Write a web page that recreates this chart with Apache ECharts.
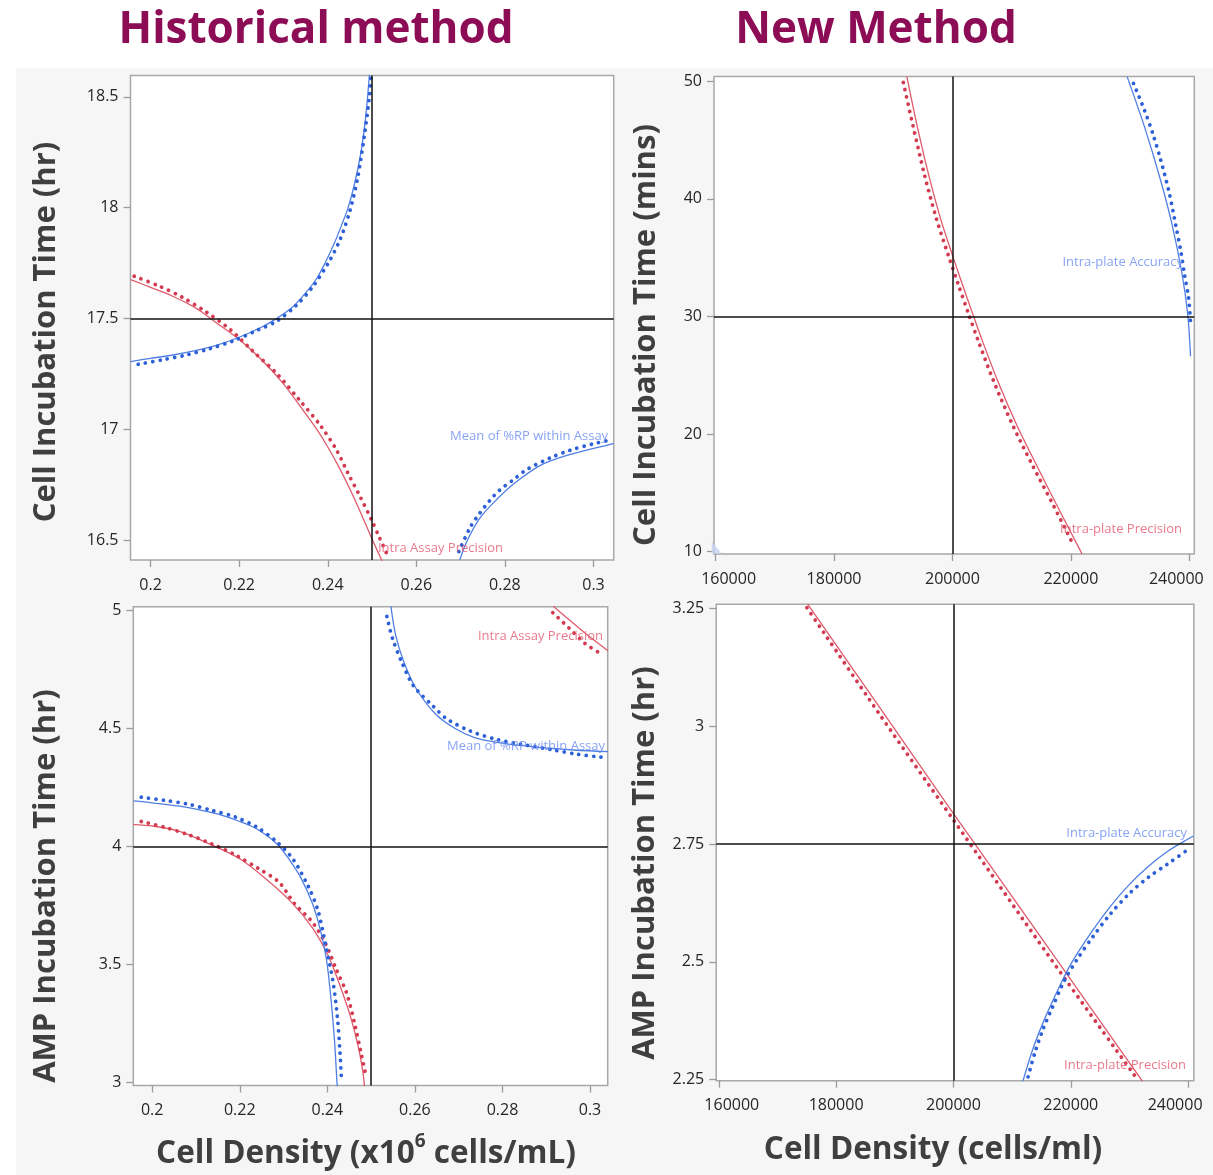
<!DOCTYPE html>
<html><head><meta charset="utf-8">
<script src="https://cdn.jsdelivr.net/npm/echarts@6/dist/echarts.min.js"></script>
<style>html,body{margin:0;padding:0;background:#fff}#c{width:1213px;height:1175px}</style>
</head><body><div id="c"></div>
<script>
// ---------- Tick values ----------
const p1XTicks = [0.2, 0.22, 0.24, 0.26, 0.28, 0.3];
const p1YTicks = [16.5, 17, 17.5, 18, 18.5];
const p2XTicks = [160000, 180000, 200000, 220000, 240000];
const p2YTicks = [10, 20, 30, 40, 50];
const p3XTicks = [0.2, 0.22, 0.24, 0.26, 0.28, 0.3];
const p3YTicks = [3, 3.5, 4, 4.5, 5];
const p4XTicks = [160000, 180000, 200000, 220000, 240000];
const p4YTicks = [2.25, 2.5, 2.75, 3, 3.25];

// ---------- Reference (target) lines ----------
const p1Ref = {x: 0.25, y: 17.5};
const p2Ref = {x: 200000, y: 30};
const p3Ref = {x: 0.25, y: 4};
const p4Ref = {x: 200000, y: 2.75};

// ---------- Panel 1: Historical, Cell Incubation Time (hr) ----------
const p1BlueLineA = [[0.1955,17.305],[0.2,17.32],[0.205,17.335],[0.21,17.355],[0.215,17.38],[0.22,17.415],[0.225,17.46],[0.2285,17.5],[0.232,17.55],[0.235,17.615],[0.2375,17.68],[0.2394,17.75],[0.2415,17.84],[0.2432,17.925],[0.2446,18.0],[0.2462,18.12],[0.2475,18.25],[0.2484,18.38],[0.249,18.5],[0.2494,18.6]];
const p1BlueDotsA = [[0.1972,17.293],[0.2026,17.313],[0.2079,17.334],[0.2133,17.363],[0.2187,17.399],[0.224,17.446],[0.2285,17.488],[0.2329,17.559],[0.2365,17.64],[0.2401,17.749],[0.2428,17.857],[0.245,17.985],[0.2468,18.14],[0.2483,18.33],[0.2494,18.5],[0.2498,18.6]];
const p1BlueLineB = [[0.2698,16.41],[0.2715,16.498],[0.2745,16.603],[0.2783,16.686],[0.282,16.754],[0.288,16.837],[0.294,16.882],[0.3038,16.932],[0.3046,16.935]];
const p1BlueDotsB = [[0.2696,16.448],[0.2721,16.555],[0.2741,16.615],[0.2766,16.679],[0.2789,16.727],[0.2819,16.772],[0.285,16.819],[0.2905,16.873],[0.2947,16.905],[0.3001,16.935],[0.3028,16.947]];
const p1RedLine = [[0.1955,17.675],[0.2,17.64],[0.205,17.6],[0.21,17.55],[0.2125,17.515],[0.215,17.478],[0.22,17.405],[0.225,17.315],[0.23,17.205],[0.235,17.07],[0.2375,17.0],[0.24,16.92],[0.2425,16.83],[0.245,16.73],[0.2475,16.62],[0.25,16.505],[0.2524,16.4]];
const p1RedDots = [[0.1963,17.69],[0.2017,17.648],[0.2071,17.596],[0.2124,17.531],[0.2178,17.453],[0.2231,17.352],[0.2285,17.251],[0.2338,17.127],[0.2383,17.018],[0.2419,16.909],[0.2446,16.80],[0.2472,16.70],[0.2499,16.59],[0.2517,16.51],[0.2535,16.43]];

// ---------- Panel 2: New, Cell Incubation Time (mins) ----------
const p2RedLine = [[192300,50.4],[194000,46.3],[196000,42.0],[198000,38.3],[200000,35.2],[201700,32.7],[203400,30.25],[205040,27.95],[207660,24.5],[210930,20.7],[214210,17.35],[217480,14.1],[221900,9.8]];
const p2RedDots = [[191700,49.9],[193300,46.3],[195300,42.0],[197300,38.3],[199300,35.2],[201000,32.7],[202700,30.25],[204340,27.95],[206960,24.5],[210230,20.7],[213510,17.35],[216780,14.2],[220500,10.5]];
const p2BlueLine = [[229500,50.4],[232540,45.96],[235160,41.57],[237120,37.76],[238760,33.66],[239740,30.15],[240200,26.63]];
const p2BlueDots = [[230570,49.82],[232400,47.57],[233850,45.52],[235160,43.32],[236600,40.54],[237770,37.61],[238560,35.56],[239210,33.51],[239870,31.61],[240200,29.56]];
const p2Corner = [[160200,10.36]];

// ---------- Panel 3: Historical, AMP Incubation Time (hr) ----------
const p3BlueLineA = [[0.1957,4.193],[0.2,4.185],[0.2059,4.172],[0.2104,4.157],[0.2149,4.138],[0.22,4.106],[0.2239,4.074],[0.2285,4.011],[0.2312,3.948],[0.2339,3.869],[0.2366,3.758],[0.2384,3.647],[0.2398,3.521],[0.2407,3.379],[0.2416,3.189],[0.2422,3.002],[0.2423,2.98]];
const p3BlueDotsA = [[0.1975,4.209],[0.2027,4.196],[0.2081,4.18],[0.2136,4.153],[0.219,4.125],[0.2239,4.082],[0.2285,4.019],[0.2321,3.948],[0.2357,3.829],[0.2379,3.726],[0.2397,3.576],[0.2413,3.426],[0.2423,3.276],[0.2429,3.126],[0.2432,3.023]];
const p3RedLineA = [[0.1957,4.093],[0.2,4.087],[0.2059,4.066],[0.2131,4.011],[0.22,3.948],[0.2266,3.853],[0.2321,3.758],[0.2366,3.655],[0.2402,3.537],[0.2429,3.41],[0.2452,3.284],[0.247,3.157],[0.2481,3.047],[0.2485,2.98]];
const p3RedDotsA = [[0.1975,4.106],[0.2027,4.082],[0.2081,4.051],[0.2136,4.011],[0.219,3.964],[0.2244,3.905],[0.2289,3.85],[0.2325,3.758],[0.2366,3.679],[0.2397,3.584],[0.242,3.481],[0.2444,3.379],[0.2463,3.244],[0.2476,3.134],[0.2488,3.031]];
const p3BlueLineB = [[0.2545,5.02],[0.2556,4.896],[0.2574,4.786],[0.2601,4.675],[0.2646,4.564],[0.2691,4.501],[0.2736,4.462],[0.28,4.438],[0.2872,4.422],[0.2962,4.409],[0.3041,4.402]];
const p3BlueDotsB = [[0.2536,4.975],[0.2549,4.881],[0.2569,4.786],[0.2596,4.683],[0.2641,4.596],[0.2673,4.541],[0.2727,4.489],[0.2786,4.454],[0.2854,4.43],[0.2917,4.409],[0.2971,4.391],[0.3025,4.379]];
const p3RedLineB = [[0.2915,5.02],[0.2953,4.96],[0.2989,4.904],[0.3041,4.83]];
const p3RedDotsB = [[0.2915,4.991],[0.2951,4.928],[0.2989,4.86],[0.3025,4.817]];

// ---------- Panel 4: New, AMP Incubation Time (hr) ----------
const p4RedLine = [[175150,3.26],[187500,3.039],[200000,2.815],[216000,2.533],[232300,2.245]];
const p4RedDots = [[175020,3.252],[187340,3.027],[199800,2.805],[216850,2.502],[231280,2.252]];
const p4BlueLine = [[211800,2.245],[213570,2.316],[215540,2.379],[218160,2.45],[220130,2.498],[223410,2.561],[226690,2.617],[229970,2.664],[233250,2.703],[236530,2.735],[240130,2.762],[240900,2.767]];
const p4BlueDots = [[212720,2.256],[213900,2.308],[215210,2.355],[216850,2.403],[218820,2.458],[221110,2.506],[223740,2.553],[226690,2.601],[229970,2.645],[233250,2.68],[236530,2.708],[240130,2.74]];

// ---------- In-plot curve labels [x, y, text, colour key] ----------
const p1Labels = [[0.3033,16.969,'Mean of %RP within Assay','b'],[0.27957,16.465,'Intra Assay Precision','r']];
const p2Labels = [[238940,34.57,'Intra-plate Accuracy','b'],[238770,11.93,'Intra-plate Precision','r']];
const p3Labels = [[0.30297,4.892,'Intra Assay Precision','r'],[0.30343,4.426,'Mean of %RP within Assay','b']];
const p4Labels = [[239810,2.7737,'Intra-plate Accuracy','b'],[239640,2.2807,'Intra-plate Precision','r']];

// ---------- Styles ----------
const RED_LINE = '#df5a6b', RED_DOT = '#d33a50';
const BLUE_LINE = '#4f7fe3', BLUE_DOT = '#2d60d6';
const LBL_BLUE = '#6a8cf0', LBL_RED = '#e4576f';
const FONT = "'Open Sans', 'Noto Sans', sans-serif";

const grids = [
  {left:130.5, top:75.5, width:483.2, height:484.5},
  {left:714, top:76.5, width:480.3, height:477.6},
  {left:133.3, top:606.8, width:474.4, height:478.7},
  {left:716.2, top:604.2, width:477.6, height:476.5}
].map(g => Object.assign({show:true, backgroundColor:'#ffffff', borderColor:'#a8a8a8', borderWidth:1.5, containLabel:false}, g));

const xRanges = [[0.19546,0.30456],[159730,240840],[0.19568,0.30404],[159557,240972]];
const yRanges = [[16.41,18.596],[9.80,50.41],[2.987,5.016],[2.2477,3.2596]];
const xTicks = [p1XTicks,p2XTicks,p3XTicks,p4XTicks];
const yTicks = [p1YTicks,p2YTicks,p3YTicks,p4YTicks];

const lblStyle = {fontSize:16, fontFamily:FONT, color:'#262626'};
function xFmt(v){
  if (v === 160000) return '{l|160000}';
  if (v === 240000) return '{r|240000}';
  return '{n|' + String(v) + '}';
}
const xAxes = xRanges.map((r,i) => ({
  gridIndex:i, type:'value', min:r[0], max:r[1],
  axisLine:{show:false}, splitLine:{show:false},
  axisTick:{show:true, customValues:xTicks[i], length:7, lineStyle:{color:'#9c9c9c', width:1.3}},
  axisLabel:Object.assign({customValues:xTicks[i], margin:17, formatter:xFmt,
    rich:{l:Object.assign({padding:[0,0,0,26]},lblStyle), r:Object.assign({padding:[0,26,0,0]},lblStyle), n:Object.assign({},lblStyle)}}, lblStyle)
}));
const yAxes = yRanges.map((r,i) => ({
  gridIndex:i, type:'value', min:r[0], max:r[1],
  axisLine:{show:false}, splitLine:{show:false},
  axisTick:{show:true, customValues:yTicks[i], length:7, lineStyle:{color:'#9c9c9c', width:1.3}},
  axisLabel:Object.assign({customValues:yTicks[i], margin:12, formatter:(v)=>String(v)}, lblStyle)
}));

function curve(gi, data, color, dotted){
  return {
    type:'line', xAxisIndex:gi, yAxisIndex:gi, data:data, symbol:'none', showSymbol:false,
    smooth:0.3, silent:true, clip:true, z:3,
    lineStyle: dotted ? {color:color, width:3.8, type:[0.01,7.4], cap:'round'} : {color:color, width:1.3}
  };
}
function refLines(gi, ref){
  return {
    type:'line', xAxisIndex:gi, yAxisIndex:gi, data:[], silent:true, z:2,
    markLine:{silent:true, symbol:['none','none'], animation:false, label:{show:false},
      lineStyle:{color:'#111111', width:1.5, type:'solid'},
      data:[{xAxis:ref.x},{yAxis:ref.y}]}
  };
}
function labels(gi, arr){
  return {
    type:'scatter', xAxisIndex:gi, yAxisIndex:gi, symbolSize:0, silent:true, z:5,
    data: arr.map(a => ({value:[a[0],a[1]], label:{color: a[3]==='b'?LBL_BLUE:LBL_RED}, name:a[2]})),
    label:{show:true, position:'inside', align:'right', verticalAlign:'middle', fontSize:13, fontFamily:FONT,
      formatter:(p)=>p.name}
  };
}

const series = [
  refLines(0,p1Ref),
  curve(0,p1RedLine,RED_LINE,false), curve(0,p1RedDots,RED_DOT,true),
  curve(0,p1BlueLineA,BLUE_LINE,false), curve(0,p1BlueDotsA,BLUE_DOT,true),
  curve(0,p1BlueLineB,BLUE_LINE,false), curve(0,p1BlueDotsB,BLUE_DOT,true),
  labels(0,p1Labels),

  refLines(1,p2Ref),
  curve(1,p2RedLine,RED_LINE,false), curve(1,p2RedDots,RED_DOT,true),
  curve(1,p2BlueLine,BLUE_LINE,false), curve(1,p2BlueDots,BLUE_DOT,true),
  {type:'scatter', xAxisIndex:1, yAxisIndex:1, data:p2Corner, silent:true, symbol:'path://M0,0 L0,12 L10,12 Z', symbolSize:[10,12], itemStyle:{color:'#c6d4f2'}},
  labels(1,p2Labels),

  refLines(2,p3Ref),
  curve(2,p3RedLineA,RED_LINE,false), curve(2,p3RedDotsA,RED_DOT,true),
  curve(2,p3BlueLineA,BLUE_LINE,false), curve(2,p3BlueDotsA,BLUE_DOT,true),
  curve(2,p3BlueLineB,BLUE_LINE,false), curve(2,p3BlueDotsB,BLUE_DOT,true),
  curve(2,p3RedLineB,RED_LINE,false), curve(2,p3RedDotsB,RED_DOT,true),
  labels(2,p3Labels),

  refLines(3,p4Ref),
  curve(3,p4RedLine,RED_LINE,false), curve(3,p4RedDots,RED_DOT,true),
  curve(3,p4BlueLine,BLUE_LINE,false), curve(3,p4BlueDots,BLUE_DOT,true),
  labels(3,p4Labels)
];

const TITLE_COLOR = '#8c0c55';
const AXT_COLOR = '#3f3f3f';
function txt(x, y, text, size, color, rot){
  return {type:'text', x:x, y:y, rotation:rot||0, silent:true,
    style:{text:text, fontSize:size, fontWeight:'bold', fontFamily:FONT, fill:color, align:'center', verticalAlign:'middle'}};
}
const graphic = [
  {type:'rect', shape:{x:0,y:0,width:1213,height:68}, style:{fill:'#ffffff'}, silent:true, z:-5},
  {type:'rect', shape:{x:0,y:68,width:16,height:1107}, style:{fill:'#ffffff'}, silent:true, z:-5},
  txt(316, 30, 'Historical method', 44, TITLE_COLOR),
  txt(876, 30, 'New Method', 44, TITLE_COLOR),
  txt(46, 332, 'Cell Incubation Time (hr)', 31, AXT_COLOR, Math.PI/2),
  txt(646, 335, 'Cell Incubation Time (mins)', 31, AXT_COLOR, Math.PI/2),
  txt(46, 886, 'AMP Incubation Time (hr)', 31, AXT_COLOR, Math.PI/2),
  txt(645, 863, 'AMP Incubation Time (hr)', 31, AXT_COLOR, Math.PI/2),
  {type:'text', x:366, y:1150, silent:true,
    style:{text:'{a|Cell Density (x10}{s|6}{a| cells/mL)}', align:'center', verticalAlign:'middle',
      rich:{a:{fontSize:31.5, fontWeight:'bold', fontFamily:FONT, fill:AXT_COLOR, lineHeight:40, verticalAlign:'bottom'},
            s:{fontSize:19, fontWeight:'bold', fontFamily:FONT, fill:AXT_COLOR, lineHeight:40, verticalAlign:'top', padding:[2,0,0,0]}}}},
  txt(933, 1150, 'Cell Density (cells/ml)', 31.5, AXT_COLOR)
];

const chart = echarts.init(document.getElementById('c'), null, {renderer:'canvas'});
chart.setOption({
  animation:false,
  backgroundColor:'#f6f6f6',
  grid:grids, xAxis:xAxes, yAxis:yAxes, series:series, graphic:graphic
});
</script></body></html>
